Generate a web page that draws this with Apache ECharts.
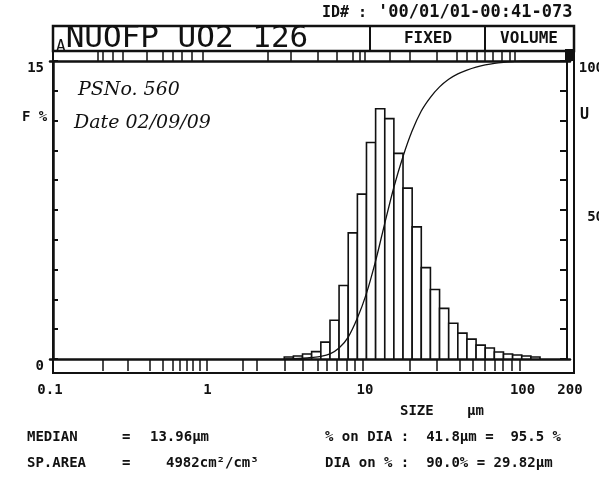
<!DOCTYPE html>
<html>
<head>
<meta charset="utf-8">
<script src="https://cdn.jsdelivr.net/npm/echarts@6/dist/echarts.min.js"></script>
<style>
  html, body { margin: 0; padding: 0; background: #fff; }
  #chartBox { width: 599px; height: 481px; }
</style>
</head>
<body>
<div id="chartBox"></div>
<script>
// channel edges (um)
const channelEdges = [3.07, 3.51, 4.01, 4.58, 5.24, 5.99, 6.84, 7.82, 8.94, 10.21, 11.67, 13.34, 15.24, 17.42,
  19.91, 22.75, 26.0, 29.71, 33.96, 38.81, 44.35, 50.68, 57.92, 66.19, 75.64, 86.44, 98.79, 112.9, 129.0];
// frequency % per channel (left axis)
const freqValues = [0.1, 0.15, 0.25, 0.37, 0.85, 1.95, 3.7, 6.35, 8.3, 10.9, 12.6, 12.1, 10.35, 8.6, 6.65,
  4.6, 3.5, 2.55, 1.8, 1.3, 1.0, 0.7, 0.55, 0.35, 0.25, 0.2, 0.15, 0.1];
// cumulative undersize % at each channel edge (right axis)
const cumValues = [0, 0.1, 0.25, 0.5, 0.87, 1.72, 3.67, 7.37, 13.72, 22.02, 32.92, 45.52, 57.62, 67.97, 76.57,
  83.22, 87.82, 91.32, 93.87, 95.67, 96.97, 97.97, 98.67, 99.22, 99.57, 99.82, 100, 100, 100];
const xLabels = [0.1, 1, 10, 100, 200];
const bottomBandTicks = [0.217, 0.313, 0.431, 0.522, 0.604, 0.669, 0.741, 0.809, 0.896, 0.993, 1.68, 2.06,
  3.07, 4.04, 5.03, 5.74, 6.64, 7.69, 8.64, 9.71, 19.31, 28.65, 40.1, 48.5, 57.8, 66.9, 75.2, 85.8, 96.4];
const topBandTicks = [0.202, 0.217, 0.251, 0.291, 0.413, 0.522, 0.604, 0.689, 0.797, 0.936, 2.42, 3.39,
  5.03, 6.64, 8.39, 9.3, 10.0, 14.41, 19.31, 28.65, 38.4, 44.4, 51.4, 57.8, 64.96, 74.1, 83.3, 89.6];

const mono = '"DejaVu Sans Mono", monospace';
const ink = '#111';

const myChart = echarts.init(document.getElementById('chartBox'));

const barData = freqValues.map((v, i) => [channelEdges[i], channelEdges[i + 1], v]);
const cumData = channelEdges.map((e, i) => [e, cumValues[i]]);
cumData.push([200, 100]);

function txt(x, y, text, font, extra) {
  return {
    type: 'text', x: x, y: y, z: 10,
    style: Object.assign({ text: text, font: font, fill: ink, verticalAlign: 'middle' }, extra || {})
  };
}

const option = {
  backgroundColor: '#fff',
  animation: false,
  grid: { left: 50, right: 29, top: 61, bottom: 122, outerBoundsMode: 'none', containLabel: false },
  xAxis: [
    {
      type: 'log', logBase: 10, min: 0.1, max: 200,
      axisLine: { onZero: false, lineStyle: { color: ink, width: 2.5 } },
      axisTick: { customValues: bottomBandTicks, inside: false, length: 12, lineStyle: { color: ink, width: 1.5 } },
      axisLabel: {
        customValues: xLabels, margin: 24, color: ink, fontFamily: mono, fontWeight: 'bold', fontSize: 14,
        formatter: v => String(+(+v).toPrecision(3))
      },
      splitLine: { show: false }
    },
    {
      type: 'log', logBase: 10, min: 0.1, max: 200, position: 'top',
      axisLine: { onZero: false, lineStyle: { color: ink, width: 2.5 } },
      axisTick: { customValues: topBandTicks, inside: false, length: 10, lineStyle: { color: ink, width: 1.5 } },
      axisLabel: { show: false },
      splitLine: { show: false }
    }
  ],
  yAxis: [
    {
      type: 'value', min: 0, max: 15, interval: 1.5, offset: -3,
      axisLine: { show: true, lineStyle: { color: ink, width: 2.5 } },
      axisTick: { show: true, inside: true, length: 5, lineStyle: { color: ink, width: 2 } },
      axisLabel: {
        margin: 9, color: ink, fontFamily: mono, fontWeight: 'bold', fontSize: 14, verticalAlign: 'top',
        formatter: v => (v === 0 || v === 15) ? String(v) : ''
      },
      splitLine: { show: false }
    },
    {
      type: 'value', min: 0, max: 100, interval: 10, position: 'right', offset: -3,
      axisLine: { show: true, lineStyle: { color: ink, width: 2 } },
      axisTick: { show: true, inside: true, length: 7, lineStyle: { color: ink, width: 2 } },
      axisLabel: {
        margin: 37, align: 'right', color: ink, fontFamily: mono, fontWeight: 'bold', fontSize: 14,
        verticalAlign: 'top',
        formatter: v => (v === 50 || v === 100) ? String(v) : ''
      },
      splitLine: { show: false }
    }
  ],
  series: [
    {
      name: 'F %',
      type: 'custom',
      xAxisIndex: 0,
      yAxisIndex: 0,
      renderItem: function (params, api) {
        const p0 = api.coord([api.value(0), api.value(2)]);
        const p1 = api.coord([api.value(1), 0]);
        return {
          type: 'rect',
          shape: { x: p0[0], y: p0[1], width: p1[0] - p0[0], height: p1[1] - p0[1] },
          style: { fill: '#fff', stroke: ink, lineWidth: 1.6 }
        };
      },
      encode: { x: [0, 1], y: 2 },
      data: barData,
      z: 2
    },
    {
      name: 'U',
      type: 'line',
      xAxisIndex: 0,
      yAxisIndex: 1,
      smooth: 0.3,
      symbol: 'none',
      lineStyle: { color: ink, width: 1.3 },
      data: cumData,
      z: 3
    }
  ],
  graphic: [
    // outer frame and title box
    { type: 'rect', z: 5, shape: { x: 53, y: 51, width: 521, height: 322 }, style: { fill: 'none', stroke: ink, lineWidth: 2 } },
    { type: 'rect', z: 5, shape: { x: 53, y: 26, width: 521, height: 25 }, style: { fill: 'none', stroke: ink, lineWidth: 2.5 } },
    { type: 'line', z: 5, shape: { x1: 370, y1: 26, x2: 370, y2: 51 }, style: { stroke: ink, lineWidth: 2 } },
    { type: 'line', z: 5, shape: { x1: 485, y1: 26, x2: 485, y2: 51 }, style: { stroke: ink, lineWidth: 2 } },
    { type: 'rect', z: 5, shape: { x: 565, y: 49, width: 9, height: 12 }, style: { fill: ink } },
    txt(56, 39, '{s|A}NUOFP UO2 126', '31px ' + mono, {
      rich: { s: { font: '16px ' + mono, fill: ink, verticalAlign: 'bottom' } }
    }),
    txt(428, 39, 'FIXED', 'bold 16px ' + mono, { align: 'center' }),
    txt(529, 39, 'VOLUME', 'bold 16px ' + mono, { align: 'center' }),
    txt(322, 13, 'ID# :', 'bold 15px ' + mono),
    txt(378, 13, "'00/01/01-00:41-073", 'bold 17px ' + mono),
    // handwritten notes
    txt(78, 90, 'PSNo. 560', 'italic 19px "DejaVu Serif"'),
    txt(74, 123, 'Date 02/09/09', 'italic 19px "DejaVu Serif"'),
    // axis names
    txt(22, 117, 'F %', 'bold 14px ' + mono),
    txt(580, 115, 'U', 'bold 15px ' + mono),
    txt(400, 411, 'SIZE', 'bold 14px ' + mono),
    txt(467, 411, 'µm', 'bold 14px ' + mono),
    // results
    txt(27, 437, 'MEDIAN', 'bold 14px ' + mono),
    txt(122, 437, '=', 'bold 14px ' + mono),
    txt(150, 437, '13.96µm', 'bold 14px ' + mono),
    txt(27, 463, 'SP.AREA', 'bold 14px ' + mono),
    txt(122, 463, '=', 'bold 14px ' + mono),
    txt(166, 463, '4982cm²/cm³', 'bold 14px ' + mono),
    txt(325, 437, '% on DIA :  41.8µm =  95.5 %', 'bold 14px ' + mono),
    txt(325, 463, 'DIA on % :  90.0% = 29.82µm', 'bold 14px ' + mono)
  ]
};

myChart.setOption(option);
</script>
</body>
</html>
